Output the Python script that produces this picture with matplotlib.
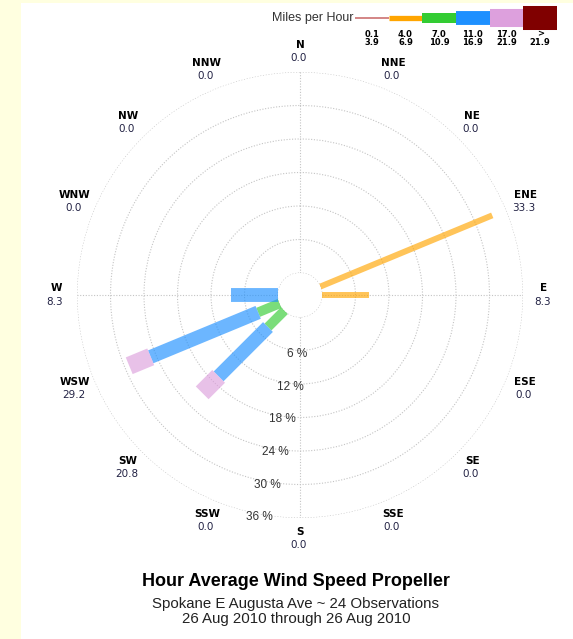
import numpy as np
import matplotlib.pyplot as plt
from matplotlib.patches import Rectangle

# 16 compass directions, clockwise from north
directions = ["N", "NNE", "NE", "ENE", "E", "ESE", "SE", "SSE",
              "S", "SSW", "SW", "WSW", "W", "WNW", "NW", "NNW"]

# speed classes (mph)
speed_bins = ["0.1\n3.9", "4.0\n6.9", "7.0\n10.9", "11.0\n16.9", "17.0\n21.9", ">\n21.9"]

# percent of observations per direction, one list per speed class
pct_01_39 = [0, 0, 0, 0, 0, 0, 0, 0, 0, 0, 0, 0, 0, 0, 0, 0]
pct_40_69 = [0, 0, 0, 33.33, 8.33, 0, 0, 0, 0, 0, 0, 0, 0, 0, 0, 0]
pct_70_109 = [0, 0, 0, 0, 0, 0, 0, 0, 0, 0, 4.17, 4.17, 0, 0, 0, 0]
pct_110_169 = [0, 0, 0, 0, 0, 0, 0, 0, 0, 0, 12.50, 20.83, 8.33, 0, 0, 0]
pct_170_219 = [0, 0, 0, 0, 0, 0, 0, 0, 0, 0, 4.17, 4.17, 0, 0, 0, 0]
pct_over_219 = [0, 0, 0, 0, 0, 0, 0, 0, 0, 0, 0, 0, 0, 0, 0, 0]

ring_ticks = [6, 12, 18, 24, 30, 36]

series = [pct_01_39, pct_40_69, pct_70_109, pct_110_169, pct_170_219, pct_over_219]
colors = ["#c86464", "#ffa500", "#33cc33", "#1e90ff", "#dda0dd", "#800000"]
bar_lw = [1.4, 4.3, 7.0, 10.0, 13.0, 15.8]
legend_lw = [1.1, 3.8, 7.2, 10.0, 13.0, 17.3]

W, H = 573, 639
fig = plt.figure(figsize=(W / 100, H / 100), dpi=100)
fig.patch.set_facecolor("#ffffe0")
fig.patches.append(Rectangle((21 / W, 0), 1, (H - 3) / H, transform=fig.transFigure,
                             facecolor="white", edgecolor="none", zorder=-1))

# polar rose, centre at (300, 295) px, outer ring radius 223 px
R = 223
ax = fig.add_axes([(300 - R) / W, (H - 295 - R) / H, 2 * R / W, 2 * R / H], projection="polar")
ax.set_theta_zero_location("N")
ax.set_theta_direction(-1)
ax.set_rorigin(-3.94)
ax.set_ylim(0, 36)
ax.set_facecolor("none")
for sp in ax.spines.values():
    sp.set_color("none")
    sp.set_linewidth(0)
ax.set_yticks([0] + ring_ticks)
ax.set_yticklabels([])
ax.set_xticks(np.deg2rad([0, 90, 180, 270]))
ax.set_xticklabels([])
ax.tick_params(length=0)
ax.grid(True, color="#c4c4c4", linestyle=(0, (1, 1.5)), linewidth=0.8)

theta = np.deg2rad(np.arange(len(directions)) * 22.5)
totals = np.sum(series, axis=0)

for i, t in enumerate(theta):
    bottom = 0
    for k, vals in enumerate(series):
        v = vals[i]
        if v > 0:
            ax.plot([t, t], [bottom, bottom + v], color=colors[k], lw=bar_lw[k],
                    alpha=0.65, solid_capstyle="butt", zorder=3)
            bottom += v

# direction names and totals
for i, t in enumerate(theta):
    ax.annotate(directions[i], (t, 39.7), xytext=(0, 4.7), textcoords="offset points",
                ha="center", va="center", fontsize=7.5, fontweight="bold",
                annotation_clip=False)
    ax.annotate(f"{totals[i]:.1f}", (t, 39.7), xytext=(-1, -4.7), textcoords="offset points",
                ha="center", va="center", fontsize=7.5, color="#222244",
                annotation_clip=False)

# ring labels
for r in ring_ticks:
    ax.annotate(f"{r} %", (np.deg2rad(193), r), xytext=(7.2, -3.6), textcoords="offset points",
                ha="center", va="center", fontsize=8.5, color="#333333",
                family="Liberation Sans", zorder=4)

# speed legend
lax = fig.add_axes([355 / W, (H - 50) / H, 202 / W, 50 / H])
lax.set_xlim(0, 6)
lax.set_ylim(50, 0)
lax.axis("off")
for k, lab in enumerate(speed_bins):
    lax.plot([k, k + 1], [18, 18], color=colors[k], lw=legend_lw[k], solid_capstyle="butt")
    lax.text(k + 0.5, 38.5, lab, ha="center", va="center", fontsize=6, fontweight="bold",
             linespacing=0.95)
lax.text(-0.05, 18, "Miles per Hour", ha="right", va="center", fontsize=9,
         color="#333333", family="Liberation Sans")

fig.text(296 / W, 1 - 581 / H, "Hour Average Wind Speed Propeller", ha="center", va="center",
         fontsize=13, fontweight="bold", family="Liberation Sans")
fig.text(296 / W, 1 - 604 / H, "Spokane E Augusta Ave ~ 24 Observations", ha="center",
         va="center", fontsize=10.8, color="#222222", family="Liberation Sans")
fig.text(296 / W, 1 - 619 / H, "26 Aug 2010 through 26 Aug 2010", ha="center",
         va="center", fontsize=10.8, color="#222222", family="Liberation Sans")

fig.savefig("out.png", dpi=100, facecolor=fig.get_facecolor())
